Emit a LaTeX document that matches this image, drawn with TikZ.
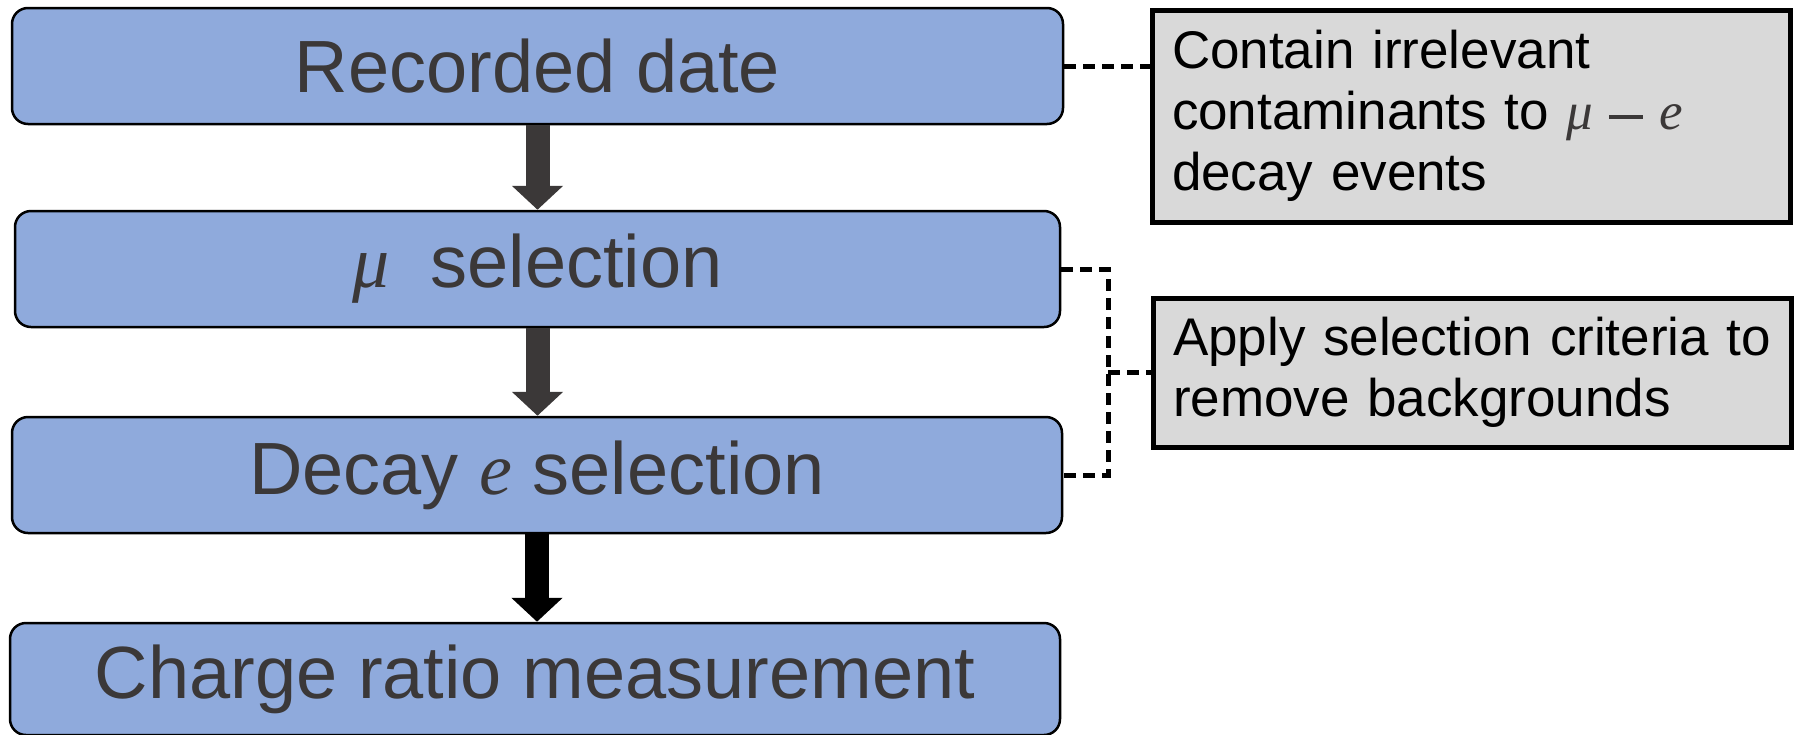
\documentclass[tikz,border=0pt]{standalone}
\usepackage{fontspec}
\setmainfont{Liberation Sans}
\newfontfamily\symfnt{Liberation Serif}
\newcommand{\sym}[1]{{\symfnt\itshape #1}}
\usetikzlibrary{arrows.meta}
\definecolor{boxblue}{HTML}{8FAADC}
\definecolor{txtgray}{HTML}{3B3838}
\definecolor{notegray}{HTML}{D9D9D9}
\newcommand{\mudecay}{{\color{txtgray}\sym{μ}\hspace{0.3em}\rule[0.21em]{0.64em}{0.075em}\hspace{0.3em}\sym{e}}}
\begin{document}
\begin{tikzpicture}[x=1pt,y=-1pt,
  stepbox/.style={draw=black, line width=2.5pt, fill=boxblue, rounded corners=16pt, text=txtgray,
    font=\fontsize{74}{80}\selectfont, inner sep=0pt, minimum height=116pt},
  notebox/.style={draw=black, line width=5pt, fill=notegray, text width=598pt, align=left,
    inner xsep=20pt, inner ysep=0pt, font=\fontsize{53}{61}\selectfont},
  flow/.style={line width=24pt, -{Triangle[width=50pt,length=24pt]}},
  link/.style={line width=5pt, dash pattern=on 12pt off 7pt}]
\useasboundingbox (0,0) rectangle (1795,734);
\node[stepbox, minimum width=1051pt] (A) at (537.5,66) {Recorded date};
\node[stepbox, minimum width=1045pt] (B) at (537.5,269) {\sym{μ}\ \ selection};
\node[stepbox, minimum width=1050pt] (C) at (537,475) {Decay \sym{e} selection};
\node[stepbox, minimum width=1050pt, minimum height=112pt] (D) at (535,679) {Charge ratio measurement};
\node[notebox, minimum height=212pt] (G1) at (1471,116) {Contain irrelevant\\contaminants to \mudecay\\decay events};
\node[notebox, minimum height=149pt] (G2) at (1472,372.5) {Apply selection criteria to\\remove backgrounds};
\draw[flow, draw=txtgray] (A.south) -- (B.north);
\draw[flow, draw=txtgray] (B.south) -- (B.south |- C.north);
\draw[flow, draw=black] (C.south) -- (C.south |- D.north);
\coordinate (J) at (1108,372.5);
\draw[link] (A.east) -- (A.east -| G1.west);
\draw[link] (B.east) -- (B.east -| J) -- (C.east -| J) -- (C.east);
\draw[link] (J) -- (J -| G2.west);
\end{tikzpicture}
\end{document}
